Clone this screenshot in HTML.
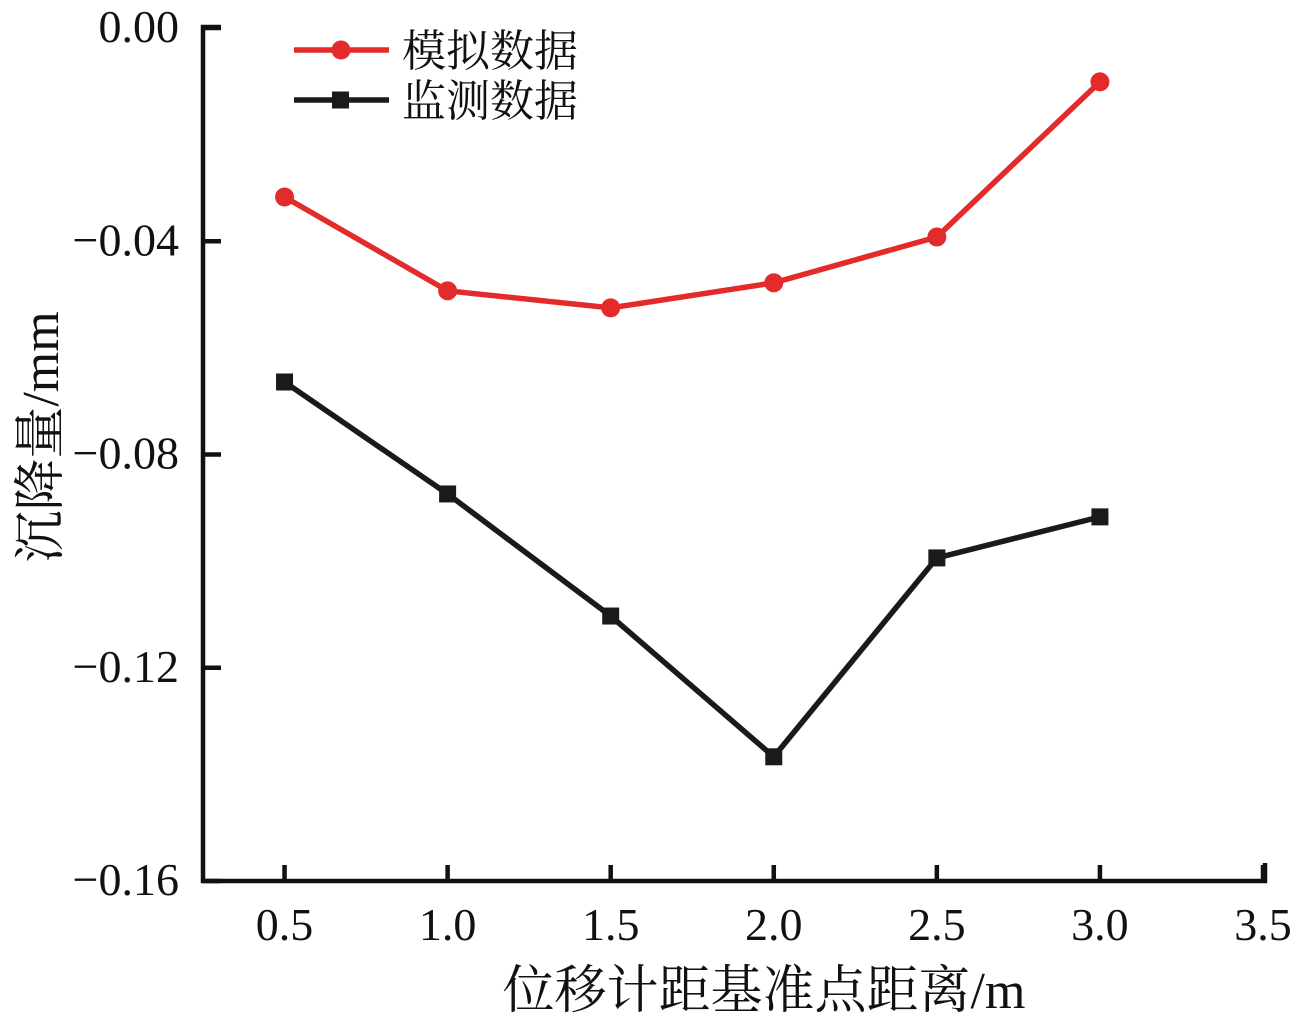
<!DOCTYPE html>
<html><head><meta charset="utf-8"><style>
body{margin:0;background:#fff}
svg{display:block}
text{font-family:"Liberation Serif","Noto Serif CJK SC",serif;fill:#111}
</style></head><body>
<svg id="c" width="1299" height="1021"></svg>
<script>
const categories=[0.5,1.0,1.5,2.0,2.5,3.0];
const simValues=[-0.0317,-0.0493,-0.0525,-0.0478,-0.0392,-0.0101];
const monValues=[-0.0664,-0.0874,-0.1103,-0.1367,-0.0994,-0.0917];
const xTicks=[0.5,1.0,1.5,2.0,2.5,3.0,3.5];
const xTickLabels=["0.5","1.0","1.5","2.0","2.5","3.0","3.5"];
const yTicks=[0,-0.04,-0.08,-0.12,-0.16];
const yTickLabels=["0.00","\u22120.04","\u22120.08","\u22120.12","\u22120.16"];
const NS="http://www.w3.org/2000/svg";
const svg=document.getElementById('c');
const X0=203,X1=1263,Y0=28,Y1=881;
const xs=v=>X0+(v-0.25)/(3.25)*(X1-X0);
const ys=v=>Y0+(0-v)/0.16*(Y1-Y0);
function mk(t,a,p){const e=document.createElementNS(NS,t);for(const k in a)e.setAttribute(k,a[k]);(p||svg).appendChild(e);return e;}
let ax=mk('path',{d:`M${X0+18} 27 H${X0} V${Y1} H${X1+2} V${Y1-18}`,fill:'none',stroke:'#111','stroke-width':4.5});


xTicks.forEach((v,i)=>{
 let t=mk('line',{x1:xs(v),x2:xs(v),y1:Y1,y2:Y1-16,stroke:'#111','stroke-width':4.5});
 
 
 let l=mk('text',{x:xs(v),y:940,'font-size':46,'text-anchor':'middle'});l.textContent=xTickLabels[i];
 
 
});
yTicks.forEach((v,i)=>{
 let t=mk('line',{x1:X0,x2:X0+18,y1:ys(v),y2:ys(v),stroke:'#111','stroke-width':4.5});
 
 
 let l=mk('text',{x:179,y:ys(v)+14,'font-size':46,'text-anchor':'end'});l.textContent=yTickLabels[i];
 
 
});
let xt=mk('text',{x:764,y:1008,'font-size':52,'text-anchor':'middle'});xt.textContent='位移计距基准点距离/m';


let yt=mk('text',{x:0,y:0,'font-size':52,'text-anchor':'middle',transform:'translate(58,437) rotate(-90)'});yt.textContent='沉降量/mm';


function series(vals,color,shape,name){
 let pl=mk('polyline',{points:vals.map((v,i)=>xs(categories[i])+','+ys(v)).join(' '),fill:'none',stroke:color,'stroke-width':5.5});
 
 
 vals.forEach((v,i)=>{
  let m=shape==='c'?mk('circle',{cx:xs(categories[i]),cy:ys(v),r:9.5,fill:color}):mk('rect',{x:xs(categories[i])-8.5,y:ys(v)-8.5,width:17,height:17,fill:color});
  
  
 });
}
series(simValues,'#e32b2b','c','simulated');
series(monValues,'#1a1a1a','s','monitored');
function leg(y,color,shape,label,name){
 let g=mk('g',{});
 
 
 mk('line',{x1:294,x2:389,y1:y,y2:y,stroke:color,'stroke-width':5.5},g);
 if(shape==='c')mk('circle',{cx:341,cy:y,r:9.5,fill:color},g);else mk('rect',{x:332,y:y-8.5,width:17,height:17,fill:color},g);
 let t=mk('text',{x:402,y:y+16,'font-size':44},g);t.textContent=label;
}
leg(50,'#e32b2b','c','模拟数据','legend-simulated');
leg(100,'#1a1a1a','s','监测数据','legend-monitored');
</script>
</body></html>
